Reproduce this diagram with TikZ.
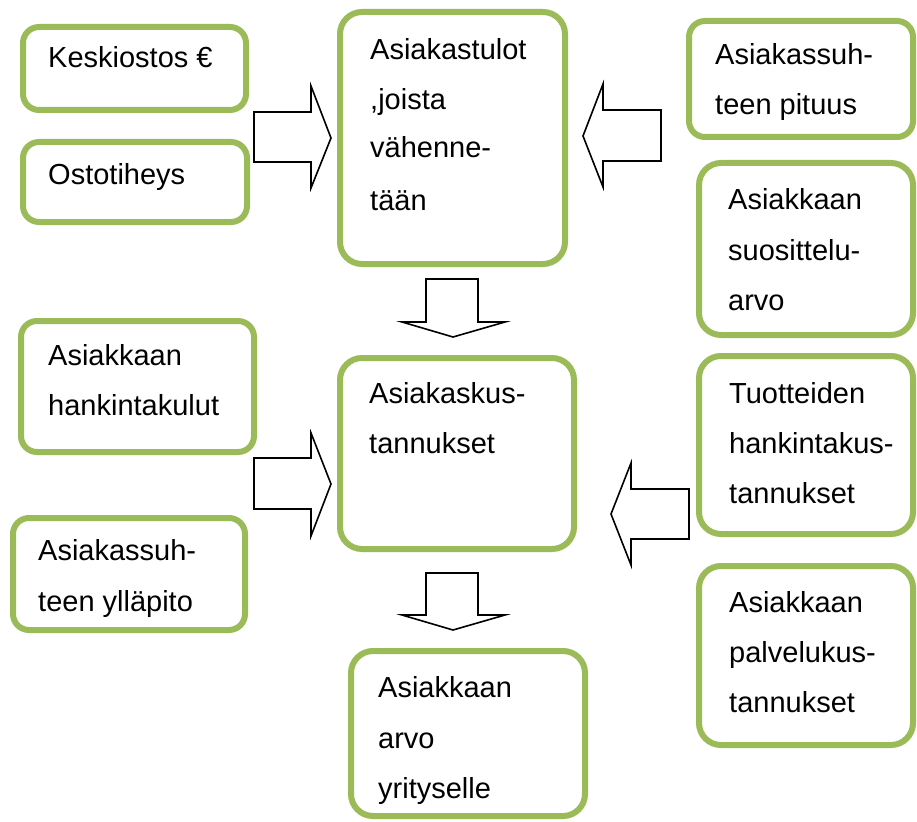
\documentclass[tikz,border=0pt]{standalone}
\usepackage{fontspec}
\setmainfont{Liberation Sans}
\definecolor{boxgreen}{RGB}{155,187,89}
\begin{document}
\begin{tikzpicture}[x=1pt,y=-1pt,
  gbox/.style={draw=boxgreen, line width=6pt, rounded corners=16pt, fill=white, inner sep=0pt},
  tallbox/.style={gbox, rounded corners=22pt},
  txt/.style={anchor=base west, inner sep=0pt, font=\fontsize{29}{50}\selectfont},
  blockarrow/.style={draw=black, line width=1.6pt, fill=white, line join=miter}]
\useasboundingbox (0,0) rectangle (917,821);

% boxes
\node[gbox, minimum width=223pt, minimum height=83pt] (kesk) at (134.5,68.5) {};
\node[gbox, minimum width=224pt, minimum height=80pt] (osto) at (135,182) {};
\node[tallbox, minimum width=225pt, minimum height=252pt] (tulot) at (452.5,138) {};
\node[gbox, minimum width=224pt, minimum height=116pt] (pituus) at (801,79) {};
\node[tallbox, minimum width=214pt, minimum height=172pt] (suos) at (806,249) {};
\node[gbox, minimum width=233pt, minimum height=131pt] (hank) at (137.5,386.5) {};
\node[tallbox, minimum width=234pt, minimum height=191pt] (kus) at (457,453.5) {};
\node[tallbox, minimum width=214pt, minimum height=178pt] (tuot) at (806,445) {};
\node[gbox, minimum width=232pt, minimum height=112pt] (yllap) at (129,574) {};
\node[tallbox, minimum width=214pt, minimum height=179pt] (palv) at (806,655.5) {};
\node[tallbox, minimum width=234pt, minimum height=165pt] (arvo) at (468,733.5) {};

% block arrows
\draw[blockarrow] (254,112) -- (311,112) -- (311,86) -- (331,138) -- (311,188) -- (311,162) -- (254,162) -- cycle;
\draw[blockarrow] (254,458) -- (311,458) -- (311,433) -- (331,484) -- (311,536) -- (311,509) -- (254,509) -- cycle;
\draw[blockarrow] (661,110) -- (603,110) -- (603,84) -- (583,136) -- (603,187) -- (603,161) -- (661,161) -- cycle;
\draw[blockarrow] (689,489) -- (631,489) -- (631,463) -- (611,514) -- (631,565) -- (631,539) -- (689,539) -- cycle;
\draw[blockarrow] (426,279) -- (478,279) -- (478,322) -- (505,322) -- (453,337) -- (402,322) -- (426,322) -- cycle;
\draw[blockarrow] (426,573) -- (478,573) -- (478,615) -- (505,615) -- (453,630) -- (402,615) -- (426,615) -- cycle;

% texts
\node[txt] (kesk1) at (48,68) {Keskiostos €};
\node[txt] (osto1) at (48,185) {Ostotiheys};

\node[txt] (tulot1) at (370,60) {Asiakastulot};
\node[txt] (tulot2) at (370,110) {,joista};
\node[txt] (tulot3) at (370,158) {vähenne-};
\node[txt] (tulot4) at (370,210) {tään};

\node[txt] (pit1) at (715,65) {Asiakassuh-};
\node[txt] (pit2) at (715,115) {teen pituus};

\node[txt] (suos1) at (728,209) {Asiakkaan};
\node[txt] (suos2) at (728,260) {suosittelu-};
\node[txt] (suos3) at (728,310) {arvo};

\node[txt] (hank1) at (48,365) {Asiakkaan};
\node[txt] (hank2) at (48,415) {hankintakulut};

\node[txt] (kus1) at (369,403) {Asiakaskus-};
\node[txt] (kus2) at (369,453) {tannukset};

\node[txt] (tuot1) at (729,403) {Tuotteiden};
\node[txt] (tuot2) at (729,453) {hankintakus-};
\node[txt] (tuot3) at (729,503) {tannukset};

\node[txt] (yll1) at (38,560) {Asiakassuh-};
\node[txt] (yll2) at (38,611) {teen ylläpito};

\node[txt] (palv1) at (729,612) {Asiakkaan};
\node[txt] (palv2) at (729,662) {palvelukus-};
\node[txt] (palv3) at (729,712) {tannukset};

\node[txt] (arvo1) at (378,697) {Asiakkaan};
\node[txt] (arvo2) at (378,748) {arvo};
\node[txt] (arvo3) at (378,798) {yrityselle};
\end{tikzpicture}
\end{document}
